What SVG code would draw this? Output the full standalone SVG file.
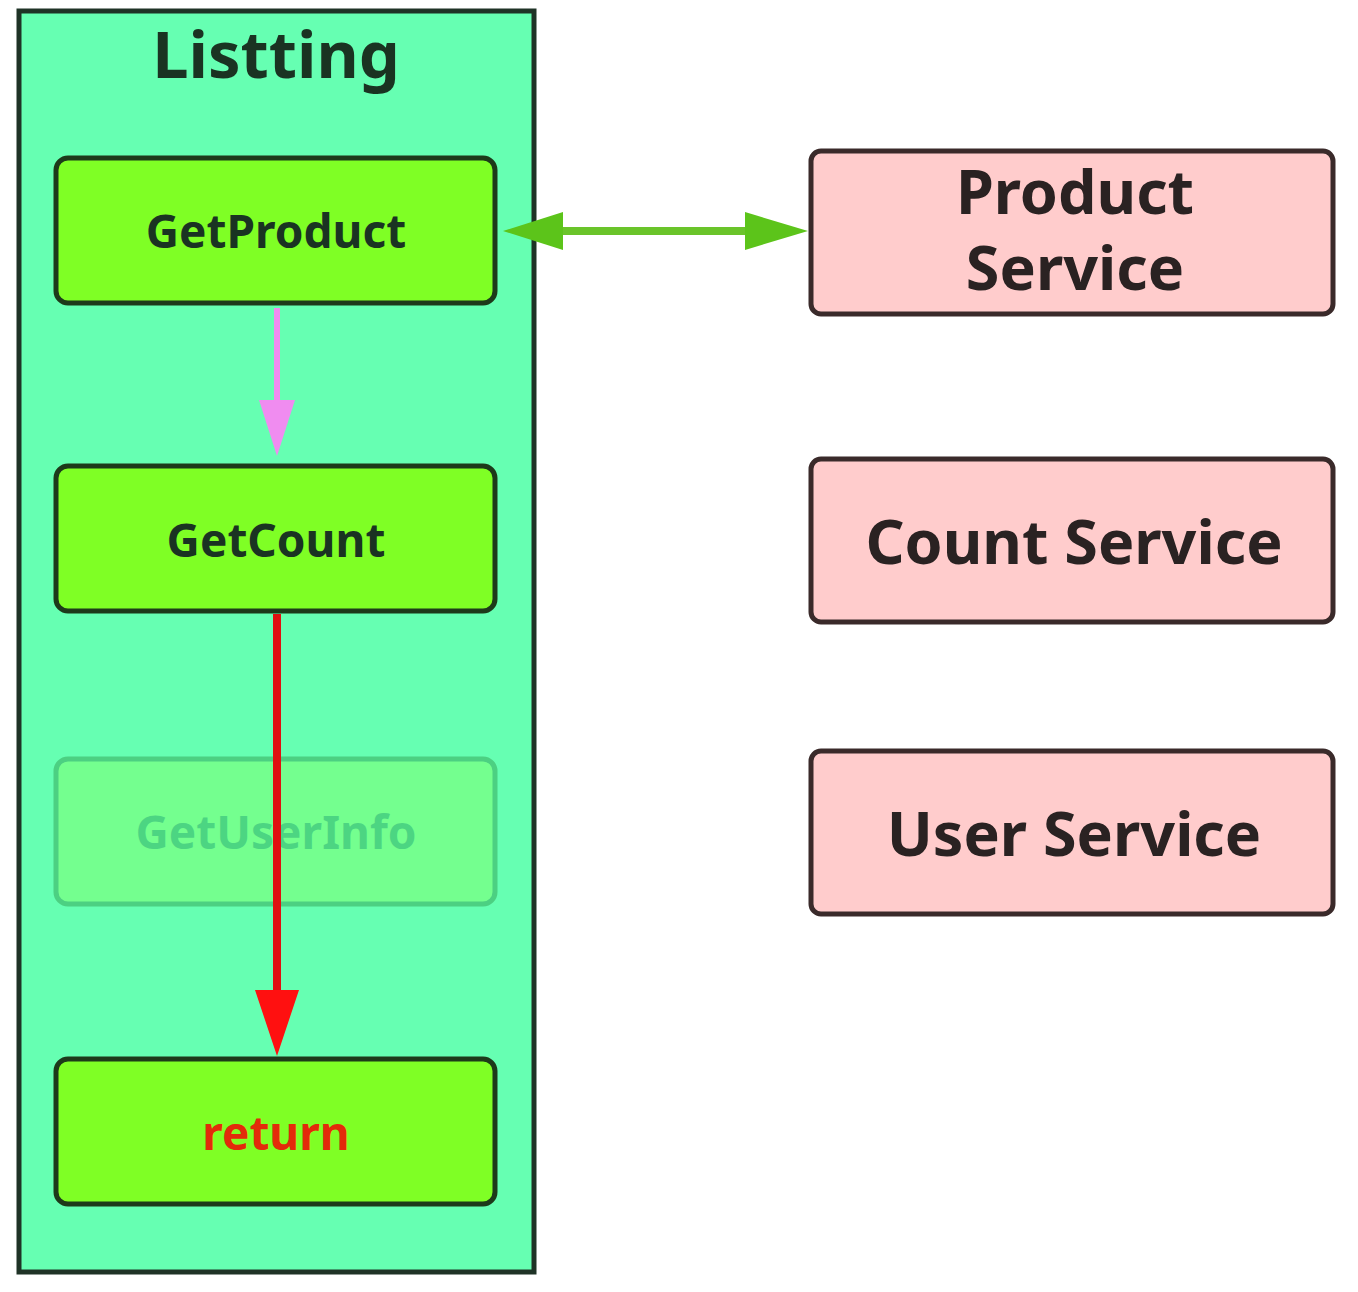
<svg xmlns="http://www.w3.org/2000/svg" width="1358" height="1292" viewBox="0 0 1358 1292">
<style>
.t{font-family:"Noto Sans","Open Sans","Liberation Sans",sans-serif;font-weight:bold;text-anchor:middle}
.fn{fill:#7fff25;stroke:#1d3a1a;stroke-width:5}
.sv{fill:#ffcccc;stroke:#3a2a2a;stroke-width:5}
</style>
<rect width="1358" height="1292" fill="#fff"/>
<g id="listting">
<rect x="19" y="11" width="515" height="1261" fill="#66ffb2" stroke="#1f3326" stroke-width="5"/>
<text class="t" x="276" y="78" font-size="65" fill="#1a3322">Listting</text>
</g>
<g id="getproduct">
<rect class="fn" x="56" y="158" width="439" height="145" rx="12"/>
<text class="t" x="276" y="248" font-size="46" fill="#1a3322">GetProduct</text>
</g>
<g id="getcount">
<rect class="fn" x="56" y="466" width="439" height="145" rx="12"/>
<text class="t" x="276" y="557" font-size="46" fill="#1a3322">GetCount</text>
</g>
<g id="getuserinfo" opacity="0.35">
<rect x="56" y="759" width="439" height="145" rx="12" fill="#90ff50" stroke="#1d7a2a" stroke-width="5"/>
<text class="t" x="276" y="849" font-size="46" fill="#1d8a2a">GetUserInfo</text>
</g>
<g id="return">
<rect class="fn" x="56" y="1059" width="439" height="145" rx="12"/>
<text class="t" x="276" y="1150" font-size="46" fill="#e32a0a">return</text>
</g>
<g id="product-service">
<rect class="sv" x="811" y="151" width="522" height="163" rx="10"/>
<text class="t" x="1075" y="214" font-size="61" fill="#2a2222">Product</text>
<text class="t" x="1075" y="290" font-size="61" fill="#2a2222">Service</text>
</g>
<g id="count-service">
<rect class="sv" x="811" y="459" width="522" height="163" rx="10"/>
<text class="t" x="1074" y="564" font-size="61" fill="#2a2222">Count Service</text>
</g>
<g id="user-service">
<rect class="sv" x="811" y="751" width="522" height="163" rx="10"/>
<text class="t" x="1074" y="856" font-size="61" fill="#2a2222">User Service</text>
</g>
<g id="connectors">
<line x1="540" y1="231" x2="760" y2="231" stroke="#6ac42a" stroke-width="8"/>
<path d="M503,231L563,212L563,250z" fill="#5cc41a"/>
<path d="M808,231L745,212L745,250z" fill="#5cc41a"/>
<line x1="277" y1="308" x2="277" y2="410" stroke="#f08cf0" stroke-width="6"/>
<path d="M277,456L259,400L295,400z" fill="#f08cf0"/>
<line x1="277" y1="614" x2="277" y2="1000" stroke="#e01010" stroke-width="8"/>
<path d="M277,1056L255,990L299,990z" fill="#ff1010"/>
</g>
</svg>
